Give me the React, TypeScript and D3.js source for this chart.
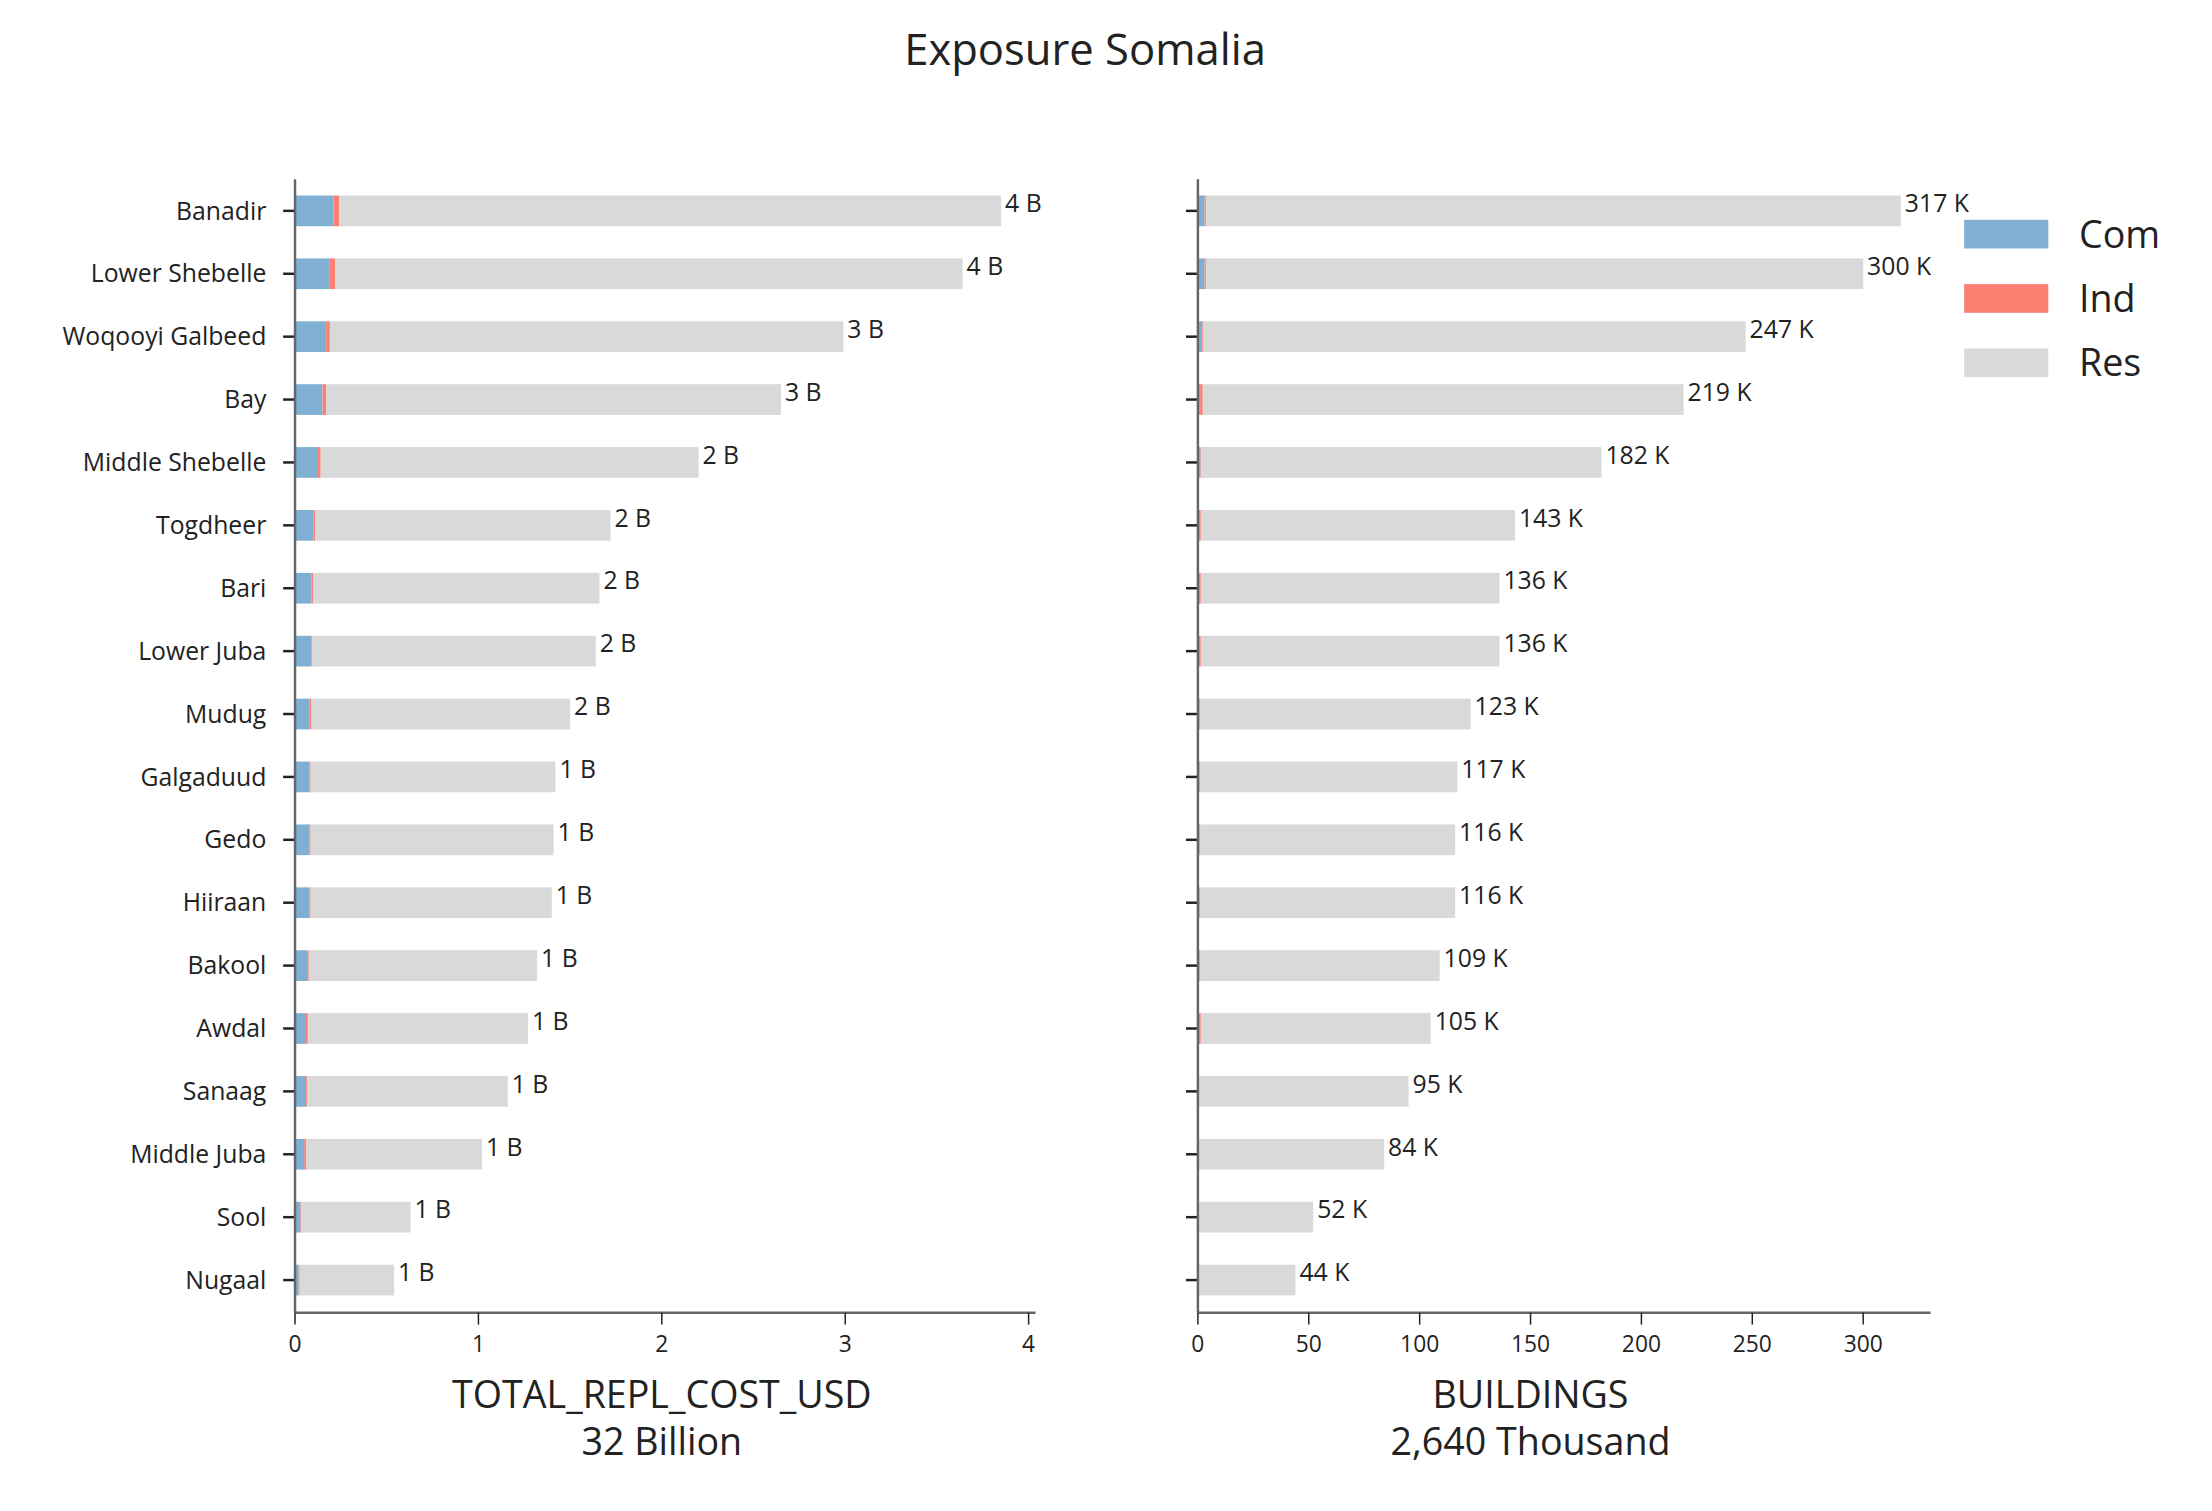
import React from "react";
import * as d3 from "d3";

const regions = ["Banadir", "Lower Shebelle", "Woqooyi Galbeed", "Bay", "Middle Shebelle", "Togdheer", "Bari", "Lower Juba", "Mudug", "Galgaduud", "Gedo", "Hiiraan", "Bakool", "Awdal", "Sanaag", "Middle Juba", "Sool", "Nugaal"];

// replacement cost, billions USD
const costTotal = [3.85, 3.64, 2.99, 2.65, 2.2, 1.72, 1.66, 1.64, 1.5, 1.42, 1.41, 1.4, 1.32, 1.27, 1.16, 1.02, 0.63, 0.54];
const costCom = [0.21, 0.19, 0.17, 0.15, 0.12, 0.1, 0.09, 0.09, 0.08, 0.08, 0.08, 0.08, 0.07, 0.06, 0.06, 0.05, 0.03, 0.02];
const costInd = [0.03, 0.03, 0.02, 0.02, 0.02, 0.01, 0.01, 0.005, 0.01, 0.005, 0.005, 0.005, 0.005, 0.01, 0.005, 0.01, 0.005, 0.005];

// buildings, thousands
const bldTotal = [317, 300, 247, 219, 182, 143, 136, 136, 123, 117, 116, 116, 109, 105, 95, 84, 52, 44];
const bldCom = [3, 3, 2, 1, 1.2, 0.5, 0.5, 0.5, 0.8, 0.8, 0.8, 0.8, 0.8, 0.3, 0.3, 0.3, 0.2, 0.2];
const bldInd = [0.6, 0.6, 0.3, 1.2, 0.3, 0.8, 0.8, 0.8, 0.2, 0.2, 0.2, 0.2, 0.2, 1, 0.1, 0.1, 0.1, 0.1];

const legendItems = ["Com", "Ind", "Res"];
const colors: Record<string, string> = { Com: "#7fb0d3", Ind: "#fb8072", Res: "#d9d9d9" };

const font = "'Open Sans', 'Noto Sans', sans-serif";
const y = d3.scalePoint<string>().domain(regions).range([213, 1293]);
const barH = 31;
const top = 181;
const bottom = 1326;

function Panel(props: {
  x0: number; x1: number; axisEnd: number; domainMax: number; ticks: number[];
  total: number[]; com: number[]; ind: number[]; unit: string;
  title: string; subtitle: string; showNames: boolean; fmt: (v: number) => string;
}) {
  const x = d3.scaleLinear().domain([0, props.domainMax]).range([props.x0, props.x1]);
  return (
    <g fontFamily={font}>
      {regions.map((r, i) => {
        const res = props.total[i] - props.com[i] - props.ind[i];
        const segs = [
          { k: "Com", a: 0, b: props.com[i] },
          { k: "Ind", a: props.com[i], b: props.com[i] + props.ind[i] },
          { k: "Res", a: props.com[i] + props.ind[i], b: props.com[i] + props.ind[i] + res },
        ];
        const cy = y(r)!;
        return (
          <g key={r}>
            {segs.map((s) => (
              <rect key={s.k} x={x(s.a)} y={cy - barH / 2} width={x(s.b) - x(s.a)} height={barH} fill={colors[s.k]} />
            ))}
            <text x={x(props.total[i]) + 4} y={cy} dy="0.05em" fontSize={25} fill="#222">
              {props.fmt(props.total[i]) + " " + props.unit}
            </text>
            <line x1={props.x0 - 12} x2={props.x0} y1={cy} y2={cy} stroke="#222" strokeWidth={2.5} />
            {props.showNames && (
              <text x={props.x0 - 29} y={cy} dy="0.35em" fontSize={25} textAnchor="end" fill="#222">{r}</text>
            )}
          </g>
        );
      })}
      <line x1={props.x0} x2={props.x0} y1={top} y2={bottom} stroke="#666" strokeWidth={2.5} />
      <line x1={props.x0} x2={props.axisEnd} y1={bottom} y2={bottom} stroke="#666" strokeWidth={2.5} />
      {props.ticks.map((t) => (
        <g key={t}>
          <line x1={x(t)} x2={x(t)} y1={bottom} y2={bottom + 12} stroke="#222" strokeWidth={1.5} />
          <text x={x(t)} y={bottom + 40} fontSize={23} textAnchor="middle" fill="#222">{t}</text>
        </g>
      ))}
      <text x={(props.x0 + props.x1) / 2} y={1422} fontSize={38} textAnchor="middle" fill="#222">{props.title}</text>
      <text x={(props.x0 + props.x1) / 2} y={1470} fontSize={38} textAnchor="middle" fill="#222">{props.subtitle}</text>
    </g>
  );
}

export default function App() {
  return (
    <svg width={2212} height={1511} style={{ position: "absolute", left: 0, top: 0, background: "#fff" }}>
      <g transform="scale(0.99)">
        <text x={1096} y={66} fontSize={44} textAnchor="middle" fontFamily={font} fill="#222">Exposure Somalia</text>
        <Panel x0={298} x1={1039} axisEnd={1046} domainMax={4} ticks={[0, 1, 2, 3, 4]} total={costTotal} com={costCom} ind={costInd}
          unit="B" title="TOTAL_REPL_COST_USD" subtitle="32 Billion" showNames fmt={(v) => String(Math.max(1, Math.round(v)))} />
        <Panel x0={1210} x1={1210 + 112 * 6} axisEnd={1950} domainMax={300} ticks={[0, 50, 100, 150, 200, 250, 300]} total={bldTotal} com={bldCom} ind={bldInd}
          unit="K" title="BUILDINGS" subtitle="2,640 Thousand" showNames={false} fmt={(v) => String(Math.round(v))} />
        {legendItems.map((k, i) => (
          <g key={k} fontFamily={font}>
            <rect x={1984} y={222 + i * 65} width={85} height={29} fill={colors[k]} />
            <text x={2100} y={237 + i * 65} dy="0.35em" fontSize={38} fill="#222">{k}</text>
          </g>
        ))}
      </g>
    </svg>
  );
}
